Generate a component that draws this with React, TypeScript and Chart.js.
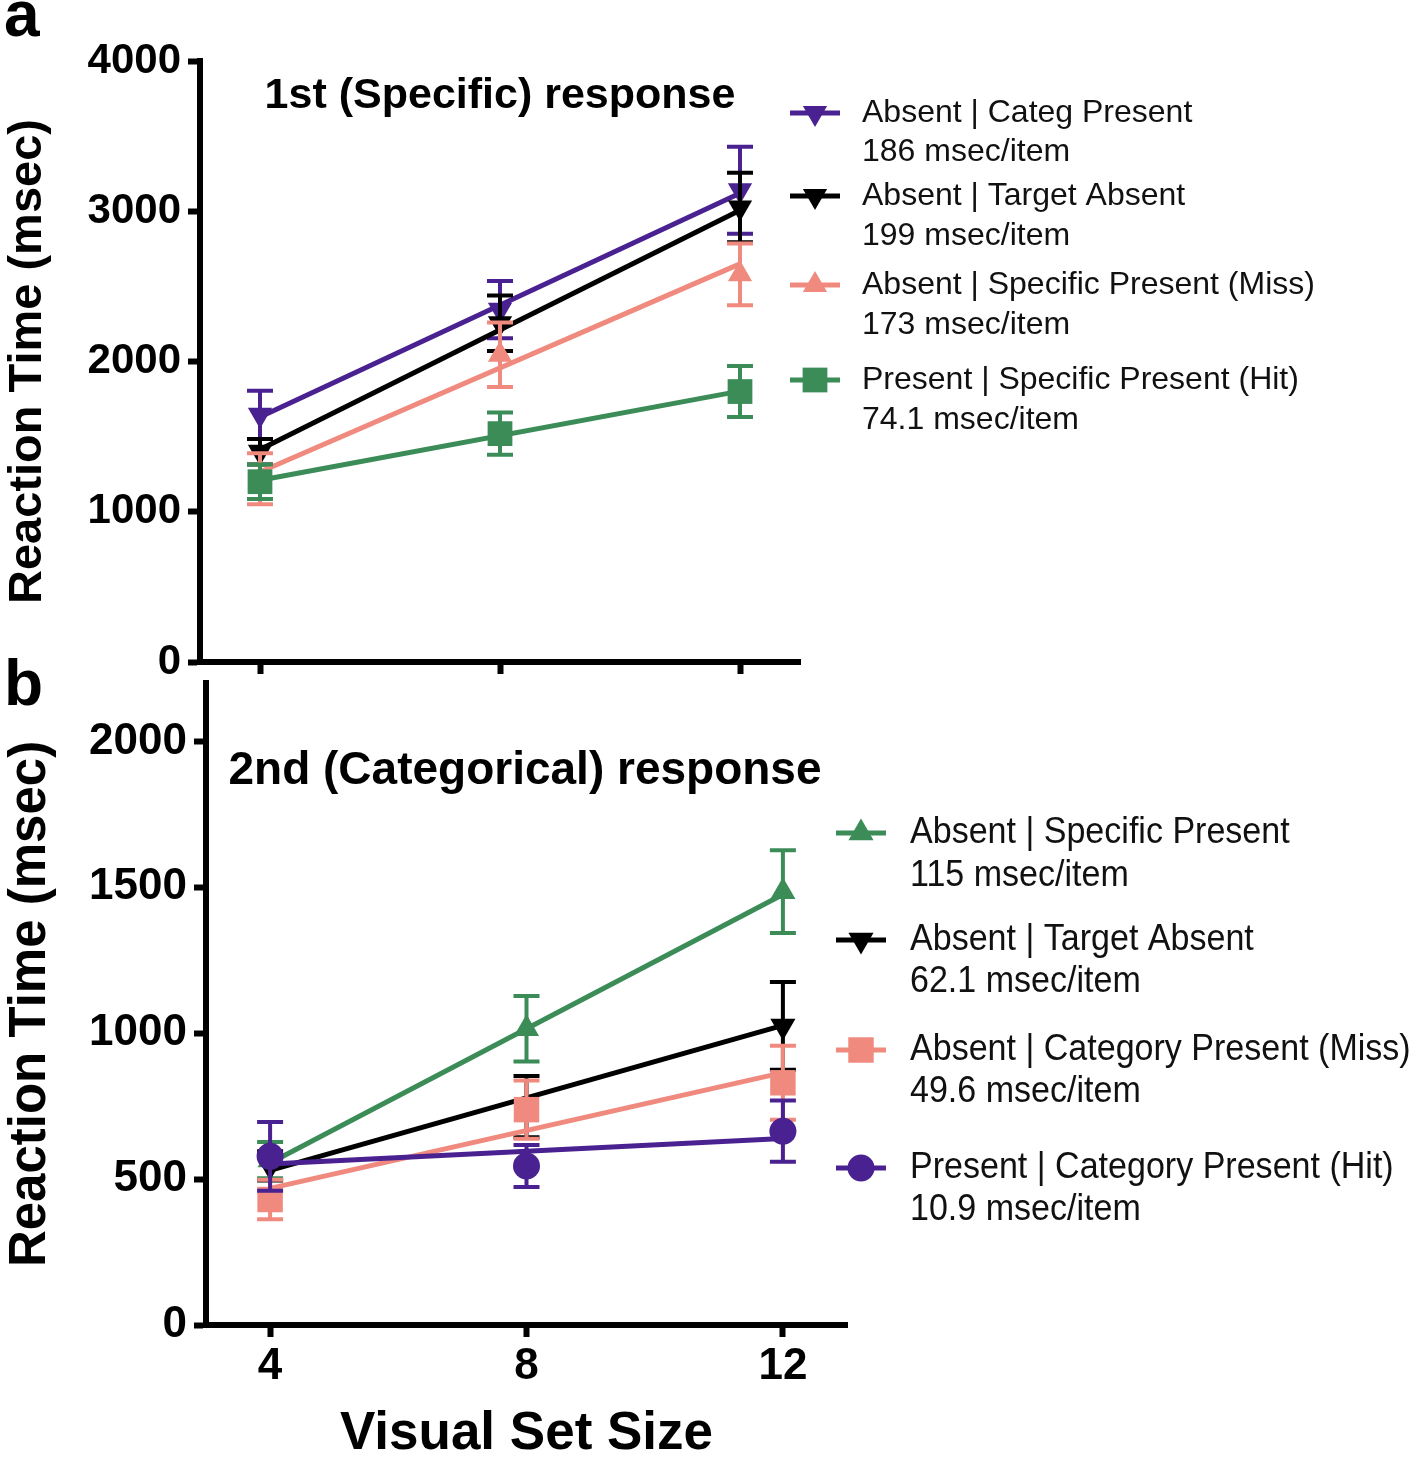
import React, { useEffect, useRef } from "react";
import { Chart, registerables } from "chart.js";

Chart.register(...registerables);

// ---------------- DATA ----------------
const setSizes = [4, 8, 12];
const fitSizes = [4, 12];

// Panel a: 1st (Specific) response
const aTitle = "1st (Specific) response";
const aNames = [
  "Absent | Categ Present",
  "Absent | Target Absent",
  "Absent | Specific Present (Miss)",
  "Present | Specific Present (Hit)",
];
const aSlopes = ["186 msec/item", "199 msec/item", "173 msec/item", "74.1 msec/item"];
const aCategMeans = [1645, 2345, 3140];
const aCategErr = [160, 190, 290];
const aCategFit = [1630, 3120];
const aAbsentMeans = [1400, 2255, 3025];
const aAbsentErr = [85, 185, 232];
const aAbsentFit = [1415, 3007];
const aMissMeans = [1220, 2045, 2580];
const aMissErr = [170, 215, 205];
const aMissFit = [1265, 2650];
const aHitMeans = [1200, 1520, 1800];
const aHitErr = [115, 140, 170];
const aHitFit = [1210, 1803];
const aYTicks = [0, 1000, 2000, 3000, 4000];

// Panel b: 2nd (Categorical) response
const bTitle = "2nd (Categorical) response";
const bNames = [
  "Absent | Specific Present",
  "Absent | Target Absent",
  "Absent | Category Present (Miss)",
  "Present | Category Present (Hit)",
];
const bSlopes = ["115 msec/item", "62.1 msec/item", "49.6 msec/item", "10.9 msec/item"];
const bSpecMeans = [565, 1015, 1485];
const bSpecErr = [62, 112, 142];
const bSpecFit = [555, 1475];
const bAbsentMeans = [545, 748, 1025];
const bAbsentErr = [50, 105, 150];
const bAbsentFit = [530, 1027];
const bMissMeans = [430, 738, 830];
const bMissErr = [68, 100, 127];
const bMissFit = [468, 865];
const bHitMeans = [578, 545, 664];
const bHitErr = [118, 72, 105];
const bHitFit = [552, 639];
const bYTicks = [0, 500, 1000, 1500, 2000];

const xTitle = "Visual Set Size";
const yTitle = "Reaction Time (msec)";

// ---------------- STYLE ----------------
const FONT = '"Liberation Sans", Arial, Helvetica, sans-serif';
const PURPLE = "#4A2190";
const BLACK = "#000000";
const SALMON = "#F08A7E";
const GREEN = "#3C8C58";

type Series = {
  name: string;
  slope: string;
  means: number[];
  errs: number[];
  fit: number[];
  color: string;
  style: string;
  rot: number;
  r: number;
};

const aSeries: Series[] = [
  { name: aNames[0], slope: aSlopes[0], means: aCategMeans, errs: aCategErr, fit: aCategFit, color: PURPLE, style: "triangle", rot: 180, r: 14 },
  { name: aNames[1], slope: aSlopes[1], means: aAbsentMeans, errs: aAbsentErr, fit: aAbsentFit, color: BLACK, style: "triangle", rot: 180, r: 14 },
  { name: aNames[2], slope: aSlopes[2], means: aMissMeans, errs: aMissErr, fit: aMissFit, color: SALMON, style: "triangle", rot: 0, r: 14 },
  { name: aNames[3], slope: aSlopes[3], means: aHitMeans, errs: aHitErr, fit: aHitFit, color: GREEN, style: "rect", rot: 0, r: 17.5 },
];

const bSeries: Series[] = [
  { name: bNames[0], slope: bSlopes[0], means: bSpecMeans, errs: bSpecErr, fit: bSpecFit, color: GREEN, style: "triangle", rot: 0, r: 14.5 },
  { name: bNames[1], slope: bSlopes[1], means: bAbsentMeans, errs: bAbsentErr, fit: bAbsentFit, color: BLACK, style: "triangle", rot: 180, r: 14.5 },
  { name: bNames[2], slope: bSlopes[2], means: bMissMeans, errs: bMissErr, fit: bMissFit, color: SALMON, style: "rect", rot: 0, r: 18 },
  { name: bNames[3], slope: bSlopes[3], means: bHitMeans, errs: bHitErr, fit: bHitFit, color: PURPLE, style: "circle", rot: 0, r: 13.5 },
];

function drawMarker(ctx: CanvasRenderingContext2D, style: string, x: number, y: number, r: number, rot: number, color: string) {
  ctx.fillStyle = color;
  ctx.beginPath();
  if (style === "triangle") {
    let rad = (rot * Math.PI) / 180;
    for (let k = 0; k < 3; k++) {
      const px = x + Math.sin(rad) * r;
      const py = y - Math.cos(rad) * r;
      if (k === 0) ctx.moveTo(px, py);
      else ctx.lineTo(px, py);
      rad += (2 * Math.PI) / 3;
    }
    ctx.closePath();
  } else if (style === "rect") {
    const s = r * Math.SQRT1_2;
    ctx.rect(x - s, y - s, 2 * s, 2 * s);
  } else {
    ctx.arc(x, y, r, 0, Math.PI * 2);
  }
  ctx.fill();
}

const errorBarPlugin = {
  id: "errorBars",
  beforeDatasetDraw(chart: any, args: any) {
    const ds = chart.data.datasets[args.index];
    if (!ds.errs) return;
    const xs = chart.scales.x;
    const ys = chart.scales.y;
    const ctx: CanvasRenderingContext2D = chart.ctx;
    ctx.save();
    ctx.strokeStyle = ds.borderColor;
    ctx.lineWidth = 4;
    ctx.lineCap = "butt";
    ds.data.forEach((pt: any, i: number) => {
      const px = xs.getPixelForValue(pt.x);
      const top = ys.getPixelForValue(pt.y + ds.errs[i]);
      const bot = ys.getPixelForValue(pt.y - ds.errs[i]);
      ctx.beginPath();
      ctx.moveTo(px, top);
      ctx.lineTo(px, bot);
      ctx.moveTo(px - 13, top);
      ctx.lineTo(px + 13, top);
      ctx.moveTo(px - 13, bot);
      ctx.lineTo(px + 13, bot);
      ctx.stroke();
    });
    ctx.restore();
  },
};

type Decor = {
  id: string;
  letter: string;
  letterX: number;
  letterY: number;
  title: string;
  titleSize: number;
  titleX: number;
  titleY: number;
  markerX: number;
  textX: number;
  rows: number[][];
  legendSize: number;
  legendScaleX: number;
  series: Series[];
};

function makeDecorPlugin(d: Decor) {
  return {
    id: d.id,
    afterDraw(chart: any) {
      const ctx: CanvasRenderingContext2D = chart.ctx;
      ctx.save();
      ctx.fillStyle = "#000";
      ctx.font = `bold 64px ${FONT}`;
      ctx.textAlign = "left";
      ctx.textBaseline = "alphabetic";
      ctx.fillText(d.letter, d.letterX, d.letterY);

      ctx.font = `bold ${d.titleSize}px ${FONT}`;
      ctx.textAlign = "center";
      ctx.textBaseline = "middle";
      ctx.fillText(d.title, d.titleX, d.titleY);

      d.series.forEach((s, i) => {
        const [y1, y2] = d.rows[i];
        ctx.strokeStyle = s.color;
        ctx.lineWidth = 5;
        ctx.beginPath();
        ctx.moveTo(d.markerX - 25, y1);
        ctx.lineTo(d.markerX + 25, y1);
        ctx.stroke();
        drawMarker(ctx, s.style, d.markerX, y1, s.r, s.rot, s.color);
        ctx.save();
        ctx.fillStyle = "#111";
        ctx.font = `${d.legendSize}px ${FONT}`;
        ctx.textAlign = "left";
        ctx.textBaseline = "middle";
        ctx.translate(d.textX, 0);
        ctx.scale(d.legendScaleX, 1);
        ctx.fillText(s.name, 0, y1);
        ctx.fillText(s.slope, 0, y2);
        ctx.restore();
      });
      ctx.restore();
    },
  };
}

function buildDatasets(series: Series[]) {
  const datasets: any[] = [];
  series.forEach((s, i) => {
    datasets.push({
      label: s.name + " fit",
      data: fitSizes.map((x, k) => ({ x, y: s.fit[k] })),
      showLine: true,
      borderColor: s.color,
      backgroundColor: s.color,
      borderWidth: 5,
      pointRadius: 0,
      order: 100 - 2 * i,
    });
    datasets.push({
      label: s.name,
      data: setSizes.map((x, k) => ({ x, y: s.means[k] })),
      errs: s.errs,
      showLine: false,
      borderColor: s.color,
      backgroundColor: s.color,
      pointStyle: s.style,
      pointRotation: s.rot,
      pointRadius: s.r,
      pointBorderWidth: 0,
      pointBackgroundColor: s.color,
      pointBorderColor: s.color,
      order: 99 - 2 * i,
    });
  });
  return datasets;
}

type AxisCfg = {
  yMax: number;
  yTicks: number[];
  yTickSize: number;
  yTitleSize: number;
  yTitlePad: number;
  yWidth: number;
  xHeight: number;
  showXLabels: boolean;
  xTickSize: number;
  padTop: number;
  padRight: number;
};

function makeConfig(series: Series[], ax: AxisCfg, decor: Decor): any {
  const grid = {
    display: true,
    drawOnChartArea: false,
    drawTicks: true,
    tickLength: 12,
    tickWidth: 6,
    tickColor: "#000",
    color: "#000",
  };
  const border = { display: true, width: 6, color: "#000" };
  return {
    type: "scatter",
    data: { datasets: buildDatasets(series) },
    options: {
      animation: false,
      responsive: false,
      maintainAspectRatio: false,
      layout: { padding: { left: 0, top: ax.padTop, right: ax.padRight, bottom: 0 } },
      plugins: {
        legend: { display: false },
        tooltip: { enabled: false },
      },
      scales: {
        x: {
          type: "linear",
          min: 3,
          max: 13,
          afterBuildTicks: (s: any) => {
            s.ticks = setSizes.map((v) => ({ value: v }));
          },
          afterFit: (s: any) => {
            s.height = ax.xHeight;
          },
          ticks: {
            display: ax.showXLabels,
            color: "#000",
            padding: 3,
            font: { family: FONT, size: ax.xTickSize, weight: "bold" },
            callback: (v: any) => String(v),
          },
          title: {
            display: ax.showXLabels,
            text: xTitle,
            color: "#000",
            font: { family: FONT, size: 53, weight: "bold", lineHeight: 1 },
            padding: { top: 0, bottom: -3 },
          },
          grid,
          border,
        },
        y: {
          type: "linear",
          min: 0,
          max: ax.yMax,
          afterBuildTicks: (s: any) => {
            s.ticks = ax.yTicks.map((v) => ({ value: v }));
          },
          afterFit: (s: any) => {
            s.width = ax.yWidth;
          },
          ticks: {
            color: "#000",
            padding: 7,
            font: { family: FONT, size: ax.yTickSize, weight: "bold" },
            callback: (v: any) => String(v),
          },
          title: {
            display: true,
            text: yTitle,
            color: "#000",
            font: { family: FONT, size: ax.yTitleSize, weight: "bold", lineHeight: 1.2 },
            padding: { top: ax.yTitlePad, bottom: 0 },
          },
          grid,
          border,
        },
      },
    },
    plugins: [errorBarPlugin, makeDecorPlugin(decor)],
  };
}

const A_H = 710;
const B_TOP = 630;
const B_H = 1458 - B_TOP;

export default function App() {
  const refA = useRef<HTMLCanvasElement>(null);
  const refB = useRef<HTMLCanvasElement>(null);

  useEffect(() => {
    const cfgA = makeConfig(
      aSeries,
      {
        yMax: 4000,
        yTicks: aYTicks,
        yTickSize: 42,
        yTitleSize: 47,
        yTitlePad: 0,
        yWidth: 200,
        xHeight: A_H - 662,
        showXLabels: false,
        xTickSize: 42,
        padTop: 61,
        padRight: 1418 - 800,
      },
      {
        id: "decorA",
        letter: "a",
        letterX: 4,
        letterY: 36,
        title: aTitle,
        titleSize: 43,
        titleX: 500,
        titleY: 96,
        markerX: 815,
        textX: 862,
        rows: [
          [113, 152],
          [196, 236],
          [285, 325],
          [380, 420],
        ],
        legendSize: 32,
        legendScaleX: 1,
        series: aSeries,
      }
    );
    const off = B_TOP;
    const cfgB = makeConfig(
      bSeries,
      {
        yMax: 2200,
        yTicks: bYTicks,
        yTickSize: 44,
        yTitleSize: 51,
        yTitlePad: 0,
        yWidth: 206,
        xHeight: B_H - (1325 - off),
        showXLabels: true,
        xTickSize: 44,
        padTop: 683 - off,
        padRight: 1418 - 847,
      },
      {
        id: "decorB",
        letter: "b",
        letterX: 4,
        letterY: 705 - off,
        title: bTitle,
        titleSize: 46,
        titleX: 525,
        titleY: 771 - off,
        markerX: 861,
        textX: 910,
        rows: [
          [833 - off, 876 - off],
          [940 - off, 982 - off],
          [1050 - off, 1092 - off],
          [1168 - off, 1210 - off],
        ],
        legendSize: 37,
        legendScaleX: 0.92,
        series: bSeries,
      }
    );
    const ca = new Chart(refA.current as HTMLCanvasElement, cfgA);
    const cb = new Chart(refB.current as HTMLCanvasElement, cfgB);
    return () => {
      ca.destroy();
      cb.destroy();
    };
  }, []);

  return (
    <div
      style={{
        position: "absolute",
        left: 0,
        top: 0,
        width: 1418,
        height: 1458,
        background: "#fff",
        overflow: "hidden",
      }}
    >
      <canvas
        ref={refA}
        width={1418}
        height={A_H}
        style={{ position: "absolute", left: 0, top: 0, width: 1418, height: A_H }}
      />
      <canvas
        ref={refB}
        width={1418}
        height={B_H}
        style={{ position: "absolute", left: 0, top: B_TOP, width: 1418, height: B_H }}
      />
    </div>
  );
}
